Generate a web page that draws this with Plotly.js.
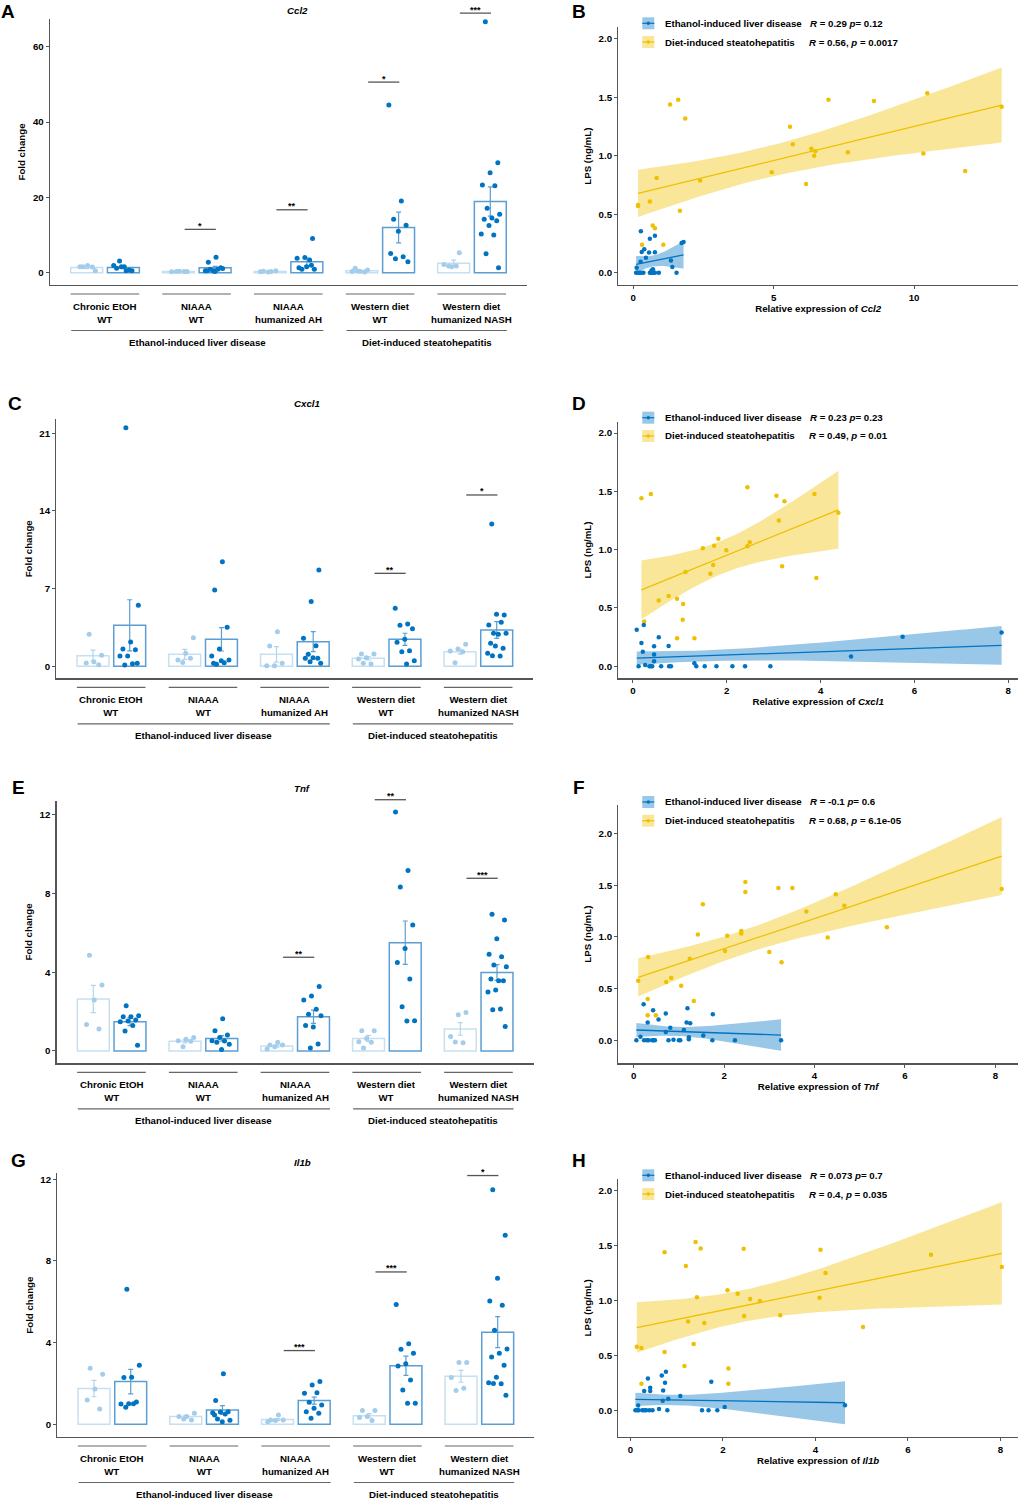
<!DOCTYPE html>
<html><head><meta charset="utf-8">
<script src="https://cdn.plot.ly/plotly-3.0.1.min.js"></script>
<style>html,body{margin:0;padding:0;background:#fff}#chart{width:1020px;height:1500px}</style>
</head><body><div id="chart"></div>
<script>
// ---------------- DATA ----------------
const groupLabels = ["Chronic EtOH<br>WT", "NIAAA<br>WT", "NIAAA<br>humanized AH", "Western diet<br>WT", "Western diet<br>humanized NASH"];
const diseaseLabels = ["Ethanol-induced liver disease", "Diet-induced steatohepatitis"];
const geneNames = ["Ccl2", "Cxcl1", "Tnf", "Il1b"];

// Ccl2 fold change
const ccl2CtrlMean = [1.4, 0.3, 0.3, 0.5, 2.5];
const ccl2CtrlSem = [0.3, 0.05, 0.05, 0.15, 0.85];
const ccl2CtrlPts = [[1.6,0.5,1.9,1.6,1.5],[0.3,0.35,0.25,0.3,0.3],[0.3,0.4,0.5,0.2,0.25],[1.15,0.7,0.4,0.3,0.2,0.5],[5.3,1.6,2.2,1.8,1.8]];
const ccl2TrtMean = [1.4, 1.3, 2.9, 12.0, 18.9];
const ccl2TrtSem = [0.3, 0.4, 1.0, 4.1, 3.9];
const ccl2TrtPts = [[3.1,0.5,1.6,1.2,0.7,1.6,1.9,0.5],[4.1,2.8,1.3,0.5,0.5,0.9,0.9,1.1,0.3,0.5],[9.1,4.0,3.8,3.4,0.9,0.9,1.6,1.3,2.0],[44.5,19.0,14.2,12.6,11.0,5.1,4.2,3.7,2.9],[66.6,29.2,26.5,23.3,23.1,17.1,15.5,14.5,14.2,13.8,12.5,10.3,10.0,5.0,1.3]];
const ccl2SigY = [null, 11.5, 16.7, 50.6, 68.9];
const ccl2SigLabel = ["", "*", "**", "*", "***"];
const ccl2Ticks = [0, 20, 40, 60];

// Cxcl1 fold change
const cxcl1CtrlMean = [0.96, 1.08, 1.08, 0.72, 1.32];
const cxcl1CtrlSem = [0.5, 0.45, 0.7, 0.15, 0.22];
const cxcl1CtrlPts = [[2.9,1.0,0.42,0.3,0.15],[2.58,1.17,0.57,0.72,0.35],[3.12,1.83,0.27,0.06,0.06],[1.11,1.11,0.78,0.66,0.21,0.27],[1.98,1.56,1.38,1.32,0.33]];
const cxcl1TrtMean = [3.7, 2.43, 2.22, 2.43, 3.27];
const cxcl1TrtSem = [2.3, 1.05, 0.9, 0.55, 0.75];
const cxcl1TrtPts = [[21.5,5.5,2.2,1.55,1.5,0.93,0.93,0.24,0.12,0.27],[9.43,6.88,3.51,1.56,0.93,0.33,0.18,0.57,0.51,0.27],[8.68,5.83,2.52,1.86,1.08,0.27,0.78,0.72,0.72,0.42],[5.23,3.81,3.69,3.39,2.43,2.16,1.41,1.32,0.51,0.21],[12.83,4.63,4.69,3.72,3.97,2.97,2.97,2.88,2.07,1.62,1.83,1.17,0.93,0.96]];
const cxcl1SigY = [null, null, null, 8.38, 15.44];
const cxcl1SigLabel = ["", "", "", "**", "*"];
const cxcl1Ticks = [0, 7, 14, 21];

// Tnf fold change
const tnfCtrlMean = [2.64, 0.49, 0.25, 0.64, 1.12];
const tnfCtrlSem = [0.69, 0.08, 0.06, 0.15, 0.32];
const tnfCtrlPts = [[4.86,3.35,2.59,1.35,1.12],[0.68,0.59,0.52,0.5,0.22],[0.44,0.3,0.3,0.22,0.1],[1.03,1.03,0.64,0.47,0.44,0.15],[1.96,1.84,0.73,0.42,0.46]];
const tnfTrtMean = [1.49, 0.64, 1.74, 5.50, 3.99];
const tnfTrtSem = [0.2, 0.14, 0.34, 1.1, 0.4];
const tnfTrtPts = [[2.30,1.79,1.74,1.74,1.57,1.52,1.49,1.29,1.02,0.29],[1.64,1.03,0.81,0.68,0.52,0.51,0.44,0.34,0.08],[3.27,2.79,2.59,2.12,1.86,1.79,1.22,1.30,0.36,0.15],[12.14,9.17,8.33,6.40,5.21,4.49,3.66,2.25,1.54,1.52],[6.94,6.65,5.70,4.91,4.79,4.37,4.28,3.57,3.66,3.57,3.10,3.0,2.13,2.10,1.24]];
const tnfSigY = [null, null, 4.76, 12.76, 8.77];
const tnfSigLabel = ["", "", "**", "**", "***"];
const tnfTicks = [0, 4, 8, 12];

// Il1b fold change
const il1bCtrlMean = [1.75, 0.38, 0.23, 0.42, 2.35];
const il1bCtrlSem = [0.4, 0.06, 0.05, 0.1, 0.29];
const il1bCtrlPts = [[2.74,2.45,1.73,1.19,0.75],[0.54,0.38,0.38,0.21,0.26],[0.46,0.21,0.21,0.18,0.13],[0.67,0.67,0.38,0.33,0.18],[3.02,3.02,2.29,1.76,1.65]];
const il1bTrtMean = [2.09, 0.70, 1.16, 2.87, 4.51];
const il1bTrtSem = [0.6, 0.21, 0.17, 0.47, 0.76];
const il1bTrtPts = [[6.61,2.89,2.30,2.29,1.09,1.0,0.99,1.0,0.83],[2.48,1.16,0.62,0.6,0.57,0.51,0.26,0.2,0.13,0.46],[2.09,1.93,1.52,1.55,1.08,0.95,0.78,0.62,0.54,0.29],[5.86,3.95,3.67,3.48,2.96,2.86,2.17,1.68,1.03,1.03],[11.48,9.26,7.15,6.04,5.83,4.60,3.69,3.48,3.30,2.89,2.30,2.04,1.99,2.0,1.42]];
const il1bSigY = [null, null, 3.61, 7.46, 12.18];
const il1bSigLabel = ["", "", "***", "***", "*"];
const il1bTicks = [0, 4, 8, 12];

// LPS vs relative expression
const ccl2EthX = [0.27,0.77,0.59,1.72,1.79,0.30,0.39,0.56,0.77,0.45,0.26,1.34,1.39,0.12,0.65,0.70,0.10,0.16,0.22,0.28,0.36,0.59,0.65,0.71,0.77,0.91,1.54];
const ccl2EthY = [0.355,0.317,0.29,0.255,0.263,0.178,0.2,0.174,0.176,0.128,0.094,0.105,0.048,0.043,0.018,0.03,0,0,0,0,0,0,0,0,0,0,0];
const ccl2DietX = [1.31,1.60,1.85,0.83,2.38,0.17,0.17,0.59,1.66,0.69,0.77,0.31,1.07,5.58,5.68,6.34,6.48,6.44,4.93,6.15,6.95,7.64,8.57,10.47,10.33,11.82,13.12];
const ccl2DietY = [1.44,1.48,1.32,0.81,0.79,0.58,0.57,0.61,0.53,0.405,0.38,0.24,0.24,1.25,1.10,1.06,1.04,1.00,0.86,0.76,1.48,1.03,1.47,1.535,1.02,0.87,1.42];
const ccl2EthStat = "<i>R</i> = 0.29 <i>p</i>= 0.12";
const ccl2DietStat = "<i>R</i> = 0.56, <i>p</i> = 0.0017";

const cxcl1EthX = [0.08,0.23,0.55,0.18,0.45,0.76,0.21,0.45,0.45,0.26,1.31,0.12,0.35,0.38,0.41,0.60,0.77,0.81,1.35,1.53,1.78,2.12,2.39,2.93,4.65,5.75,7.86];
const cxcl1EthY = [0.314,0.354,0.248,0.2,0.171,0.174,0.125,0.1,0.043,0.011,0.025,0,0,0,0,0,0,0,0,0,0,0,0,0,0.083,0.254,0.289];
const cxcl1DietX = [0.18,0.38,2.44,3.06,3.23,3.87,4.38,3.11,1.82,1.49,1.73,1.99,2.44,2.49,1.71,3.18,1.12,1.65,3.91,0.55,0.76,0.94,1.07,1.06,0.24,0.94,1.31];
const cxcl1DietY = [1.44,1.477,1.534,1.463,1.414,1.477,1.317,1.25,1.094,1.011,1.034,0.994,1.029,1.063,0.869,0.857,0.809,0.794,0.757,0.563,0.603,0.58,0.534,0.40,0.383,0.24,0.24];
const cxcl1EthStat = "<i>R</i> = 0.23 <i>p</i>= 0.23";
const cxcl1DietStat = "<i>R</i> = 0.49, <i>p</i> = 0.01";

const tnfEthX = [0.22,0.43,0.71,1.19,1.75,0.31,0.55,1.17,1.25,0.81,0.71,1.11,0.15,1.54,1.22,1.22,0.88,0.06,0.23,0.29,0.33,0.41,0.44,0.47,0.77,1.0,1.03,1.74,2.24,3.26];
const tnfEthY = [0.348,0.29,0.258,0.31,0.252,0.171,0.2,0.171,0.165,0.122,0.08,0.1,0.035,0.045,0.03,0.01,0.006,0,0,0,0,0,0,0,0,0,0,0,0,0];
const tnfDietX = [2.47,2.47,3.20,3.51,8.14,1.53,4.47,4.66,3.82,5.60,1.42,2.07,2.38,2.38,4.29,2.02,3.00,3.27,0.32,1.24,0.10,0.72,0.83,1.05,0.31,1.33,0.31,0.49];
const tnfDietY = [1.532,1.435,1.474,1.474,1.465,1.316,1.413,1.303,1.248,1.094,1.023,1.013,1.058,1.035,0.994,0.865,0.855,0.755,0.806,0.79,0.577,0.565,0.603,0.529,0.40,0.381,0.242,0.242];
const tnfEthStat = "<i>R</i> = -0.1 <i>p</i>= 0.6";
const tnfDietStat = "<i>R</i> = 0.68, <i>p</i> = 6.1e-05";

const il1bEthX = [0.77,0.68,0.38,0.75,1.75,0.43,0.30,0.43,0.71,1.08,0.82,0.70,0.17,2.04,0.62,0.11,0.15,0.18,0.26,0.30,0.34,0.41,0.48,0.80,1.55,1.69,1.88,4.64];
const il1bEthY = [0.352,0.318,0.291,0.252,0.261,0.206,0.176,0.176,0.18,0.13,0.106,0.088,0.045,0.03,0.012,0,0,0,0,0,0,0,0,0,0,0,0,0.046];
const il1bDietX = [1.41,1.52,0.74,2.45,4.11,6.50,8.03,1.20,4.22,2.10,2.32,1.44,4.09,2.59,2.80,1.25,1.60,2.46,3.24,5.03,0.14,0.24,1.37,0.74,1.17,2.12,0.24,2.12];
const il1bDietY = [1.533,1.475,1.439,1.472,1.463,1.417,1.305,1.314,1.25,1.093,1.062,1.029,1.026,1.014,0.995,0.81,0.795,0.859,0.865,0.759,0.58,0.568,0.604,0.531,0.404,0.382,0.243,0.243];
const il1bEthStat = "<i>R</i> = 0.073 <i>p</i>= 0.7";
const il1bDietStat = "<i>R</i> = 0.4, <i>p</i> = 0.035";

const lpsTicks = [0, 0.5, 1, 1.5, 2];

// ---------------- STYLE / LAYOUT ----------------
const W = 1020, H = 1500;
const FONT = "Liberation Sans, Arial, sans-serif";
const AXIS = "#555555";
const BLUE = "#0073C2", YELLOW = "#EFC000";
const BLUE_FILL = "rgba(0,115,194,0.4)", YELLOW_FILL = "rgba(239,192,0,0.4)";
const LIGHT_PT = "#A3CDEA", LIGHT_LINE = "#C6E0F1", DARK_LINE = "#5C9ED4";
const LIGHT_X = [0, 2.5, 5, 7.5, 10];
const DARK_X = LIGHT_X.map(v => v + 1);
const BAR_XR = [-1, 12];
const FS = 9.7;

const barPanels = [
  {letter:"A", gene:geneNames[0], cm:ccl2CtrlMean, cs:ccl2CtrlSem, cp:ccl2CtrlPts, tm:ccl2TrtMean, ts:ccl2TrtSem, tp:ccl2TrtPts, sy:ccl2SigY, sl:ccl2SigLabel, ticks:ccl2Ticks,
   box:{l:50, r:527, t:19, b:285}, yr:[-3.27, 67.35], letterPos:[7.5, 0], titlePos:[297.7, 10]},
  {letter:"C", gene:geneNames[1], cm:cxcl1CtrlMean, cs:cxcl1CtrlSem, cp:cxcl1CtrlPts, tm:cxcl1TrtMean, ts:cxcl1TrtSem, tp:cxcl1TrtPts, sy:cxcl1SigY, sl:cxcl1SigLabel, ticks:cxcl1Ticks,
   box:{l:56.3, r:533.4, t:419.3, b:678.3}, yr:[-1.08, 22.26], letterPos:[15, 391.5], titlePos:[306.7, 404]},
  {letter:"E", gene:geneNames[2], cm:tnfCtrlMean, cs:tnfCtrlSem, cp:tnfCtrlPts, tm:tnfTrtMean, ts:tnfTrtSem, tp:tnfTrtPts, sy:tnfSigY, sl:tnfSigLabel, ticks:tnfTicks,
   box:{l:56.6, r:533.7, t:800.7, b:1063.3}, yr:[-0.625, 12.71], letterPos:[18, 775.5], titlePos:[302, 788.3]},
  {letter:"G", gene:geneNames[3], cm:il1bCtrlMean, cs:il1bCtrlSem, cp:il1bCtrlPts, tm:il1bTrtMean, ts:il1bTrtSem, tp:il1bTrtPts, sy:il1bSigY, sl:il1bSigLabel, ticks:il1bTicks,
   box:{l:57.3, r:534.4, t:1173.3, b:1437}, yr:[-0.622, 12.29], letterPos:[18, 1149]}
];
barPanels[3].titlePos = [302.3, 1162.3];

const scatterPanels = [
  {letter:"B", gene:geneNames[0], ex:ccl2EthX, ey:ccl2EthY, dx:ccl2DietX, dy:ccl2DietY, es:ccl2EthStat, ds:ccl2DietStat, xticks:[0,5,10],
   box:{l:618.3, r:1018, t:27.3, b:285}, xr:[-0.534, 13.70], yr:[-0.105, 2.10], legY:[23.3, 42], letterPos:[578.7, 0]},
  {letter:"D", gene:geneNames[1], ex:cxcl1EthX, ey:cxcl1EthY, dx:cxcl1DietX, dy:cxcl1DietY, es:cxcl1EthStat, ds:cxcl1DietStat, xticks:[0,2,4,6,8],
   box:{l:618.3, r:1018, t:421.7, b:678.3}, xr:[-0.313, 8.21], yr:[-0.103, 2.097], legY:[417.7, 436], letterPos:[578.7, 391.5]},
  {letter:"F", gene:geneNames[2], ex:tnfEthX, ey:tnfEthY, dx:tnfDietX, dy:tnfDietY, es:tnfEthStat, ds:tnfDietStat, xticks:[0,2,4,6,8],
   box:{l:618.3, r:1018, t:805, b:1063.3}, xr:[-0.34, 8.50], yr:[-0.223, 2.278], legY:[802, 820.7], letterPos:[578.7, 775.5]},
  {letter:"H", gene:geneNames[3], ex:il1bEthX, ey:il1bEthY, dx:il1bDietX, dy:il1bDietY, es:il1bEthStat, ds:il1bDietStat, xticks:[0,2,4,6,8],
   box:{l:618.3, r:1018, t:1179, b:1436.7}, xr:[-0.26, 8.38], yr:[-0.24, 2.107], legY:[1175.3, 1194], letterPos:[578.7, 1148.5]}
];

// ---------------- HELPERS ----------------
const fx = p => p / W;
const fy = p => 1 - p / H;
const mapX = (box, xr, v) => box.l + (v - xr[0]) / (xr[1] - xr[0]) * (box.r - box.l);
const mapY = (box, yr, v) => box.b - (v - yr[0]) / (yr[1] - yr[0]) * (box.b - box.t);
const boldFont = (size, color) => ({family: FONT, size: size || FS, color: color || "#000", weight: "bold"});

function tq975(df) {
  const z = 1.959964, z3 = z*z*z, z5 = z3*z*z, z7 = z5*z*z;
  return z + (z3 + z)/(4*df) + (5*z5 + 16*z3 + 3*z)/(96*df*df) + (3*z7 + 19*z5 + 17*z3 - 15*z)/(384*df*df*df);
}
function lmFit(xs, ys) {
  const n = xs.length;
  const mx = xs.reduce((a,b)=>a+b,0)/n, my = ys.reduce((a,b)=>a+b,0)/n;
  let sxx = 0, sxy = 0;
  for (let i=0;i<n;i++){ sxx += (xs[i]-mx)**2; sxy += (xs[i]-mx)*(ys[i]-my); }
  const b = sxy/sxx, a = my - b*mx;
  let sse = 0;
  for (let i=0;i<n;i++){ sse += (ys[i]-a-b*xs[i])**2; }
  const s = Math.sqrt(sse/(n-2)), t = tq975(n-2);
  const lo = Math.min(...xs), hi = Math.max(...xs);
  const gx = [], gy = [], up = [], dn = [];
  for (let k=0;k<=80;k++){
    const x = lo + (hi-lo)*k/80;
    const yh = a + b*x;
    const se = s*Math.sqrt(1/n + (x-mx)**2/sxx);
    gx.push(x); gy.push(yh); up.push(yh + t*se); dn.push(yh - t*se);
  }
  return {gx, gy, up, dn};
}
function jitter(k) { return (((k * 0.618034 + 0.31) % 1) - 0.5) * 0.55; }

const traces = [], shapes = [], annotations = [];
const layout = {
  width: W, height: H, margin: {l:0, r:0, t:0, b:0},
  paper_bgcolor: "#fff", plot_bgcolor: "rgba(0,0,0,0)",
  showlegend: false, hovermode: false, barmode: "overlay",
  font: {family: FONT, size: FS, color: "#000"}
};

function hline(x0, x1, y, color, width) {
  shapes.push({type:"line", xref:"paper", yref:"paper", x0:fx(x0), x1:fx(x1), y0:fy(y), y1:fy(y), line:{color, width}});
}
function label(text, x, y, opts) {
  annotations.push(Object.assign({text, xref:"paper", yref:"paper", x:fx(x), y:fy(y), showarrow:false,
    xanchor:"center", yanchor:"middle", font:boldFont()}, opts || {}));
}
function letter(text, pos) {
  label(text, pos[0], pos[1], {yanchor:"top", borderpad:0, font:boldFont(19)});
}

// ---------------- BAR PANELS ----------------
barPanels.forEach((p, i) => {
  const n = 2*i + 1;
  const xa = n === 1 ? "xaxis" : "xaxis" + n, ya = n === 1 ? "yaxis" : "yaxis" + n;
  const xr = "x" + (n === 1 ? "" : n), yr = "y" + (n === 1 ? "" : n);
  layout[xa] = {domain:[fx(p.box.l), fx(p.box.r)], range:BAR_XR, anchor:yr, showline:true, linecolor:AXIS, linewidth:1.3,
    ticks:"", showticklabels:false, showgrid:false, zeroline:false, fixedrange:true};
  layout[ya] = {domain:[fy(p.box.b), fy(p.box.t)], range:p.yr, anchor:xr, showline:true, linecolor:AXIS, linewidth:1.3,
    ticks:"outside", ticklen:3, tickwidth:1, tickcolor:AXIS, tickvals:p.ticks, tickfont:boldFont(FS),
    showgrid:false, zeroline:false, fixedrange:true,
    title:{text:"Fold change", font:boldFont(FS), standoff:5}};

  traces.push({type:"bar", x:LIGHT_X, y:p.cm, width:0.87, xaxis:xr, yaxis:yr,
    marker:{color:"#FFFFFF", line:{color:LIGHT_LINE, width:1.5}},
    error_y:{type:"data", array:p.cs, visible:true, color:"#B3D5EC", thickness:1.2, width:2.5}});
  traces.push({type:"bar", x:DARK_X, y:p.tm, width:0.87, xaxis:xr, yaxis:yr,
    marker:{color:"#FFFFFF", line:{color:DARK_LINE, width:1.5}},
    error_y:{type:"data", array:p.ts, visible:true, color:DARK_LINE, thickness:1.2, width:2.5}});

  const lx = [], ly = [], dx = [], dy = [];
  p.cp.forEach((pts, g) => pts.forEach((v, k) => { lx.push(LIGHT_X[g] + jitter(k + g)); ly.push(v); }));
  p.tp.forEach((pts, g) => pts.forEach((v, k) => { dx.push(DARK_X[g] + jitter(k + 2*g)); dy.push(v); }));
  traces.push({type:"scatter", mode:"markers", x:lx, y:ly, xaxis:xr, yaxis:yr, marker:{color:LIGHT_PT, size:5}});
  traces.push({type:"scatter", mode:"markers", x:dx, y:dy, xaxis:xr, yaxis:yr, marker:{color:BLUE, size:5}});

  // significance brackets
  p.sy.forEach((v, g) => {
    if (v === null) return;
    const y = mapY(p.box, p.yr, v);
    hline(mapX(p.box, BAR_XR, LIGHT_X[g] + 0.17), mapX(p.box, BAR_XR, DARK_X[g] + 0.02), y, AXIS, 1.3);
    label(p.sl[g], mapX(p.box, BAR_XR, (LIGHT_X[g] + DARK_X[g]) / 2 + 0.1), y + 3.5, {yanchor:"bottom", font:boldFont(9)});
  });

  // group labels below axis
  const base = p.box.b;
  groupLabels.forEach((g, k) => {
    hline(mapX(p.box, BAR_XR, LIGHT_X[k] - 0.44), mapX(p.box, BAR_XR, DARK_X[k] + 0.43), base + 9, "#666", 1.2);
    label(g, mapX(p.box, BAR_XR, LIGHT_X[k] + 0.5), base + 27.8);
  });
  const ethL = mapX(p.box, BAR_XR, LIGHT_X[0] - 0.42), ethR = mapX(p.box, BAR_XR, DARK_X[2] + 0.45);
  const dietL = mapX(p.box, BAR_XR, LIGHT_X[3] - 0.42), dietR = mapX(p.box, BAR_XR, DARK_X[4] + 0.45);
  hline(ethL, ethR, base + 45.5, "#666", 1.2);
  hline(dietL, dietR, base + 45.5, "#666", 1.2);
  label(diseaseLabels[0], (ethL + ethR) / 2, base + 57.5);
  label(diseaseLabels[1], (dietL + dietR) / 2, base + 57.5);

  label("<i>" + p.gene + "</i>", p.titlePos[0], p.titlePos[1]);
  letter(p.letter, p.letterPos);
});

// ---------------- SCATTER PANELS ----------------
scatterPanels.forEach((p, i) => {
  const n = 2*i + 2;
  const xa = "xaxis" + n, ya = "yaxis" + n, xr = "x" + n, yr = "y" + n;
  layout[xa] = {domain:[fx(p.box.l), fx(p.box.r)], range:p.xr, anchor:yr, showline:true, linecolor:AXIS, linewidth:1.3,
    ticks:"outside", ticklen:3, tickwidth:1, tickcolor:AXIS, tickvals:p.xticks, tickfont:boldFont(FS),
    showgrid:false, zeroline:false, fixedrange:true,
    title:{text:"Relative expression of <i>" + p.gene + "</i>", font:boldFont(FS), standoff:2}};
  layout[ya] = {domain:[fy(p.box.b), fy(p.box.t)], range:p.yr, anchor:xr, showline:true, linecolor:AXIS, linewidth:1.3,
    ticks:"outside", ticklen:3, tickwidth:1, tickcolor:AXIS, tickvals:lpsTicks, tickformat:".1f", tickfont:boldFont(FS),
    showgrid:false, zeroline:false, fixedrange:true,
    title:{text:"LPS (ng/mL)", font:boldFont(FS), standoff:5}};

  [[p.dx, p.dy, YELLOW, YELLOW_FILL], [p.ex, p.ey, BLUE, BLUE_FILL]].forEach(([xs, ys, col, fill]) => {
    const f = lmFit(xs, ys);
    traces.push({type:"scatter", mode:"lines", x:f.gx.concat(f.gx.slice().reverse()), y:f.up.concat(f.dn.slice().reverse()),
      fill:"toself", fillcolor:fill, line:{width:0}, xaxis:xr, yaxis:yr});
    traces.push({type:"scatter", mode:"lines", x:f.gx, y:f.gy, line:{color:col, width:1.3}, xaxis:xr, yaxis:yr});
  });
  traces.push({type:"scatter", mode:"markers", x:p.dx, y:p.dy, marker:{color:YELLOW, size:4.5}, xaxis:xr, yaxis:yr});
  traces.push({type:"scatter", mode:"markers", x:p.ex, y:p.ey, marker:{color:BLUE, size:4.5}, xaxis:xr, yaxis:yr});

  // legend
  [[diseaseLabels[0], p.es, BLUE, BLUE_FILL, 808.3], [diseaseLabels[1], p.ds, YELLOW, YELLOW_FILL, 806.7]].forEach(([name, stat, col, fill, sx], r) => {
    const cy = p.legY[r];
    shapes.push({type:"rect", xref:"paper", yref:"paper", x0:fx(642.3), x1:fx(654.3), y0:fy(cy + 6), y1:fy(cy - 6), fillcolor:fill, line:{width:0}});
    hline(642.3, 654.3, cy, col, 1.2);
    shapes.push({type:"circle", xref:"paper", yref:"paper", x0:fx(646.6), x1:fx(650), y0:fy(cy + 1.7), y1:fy(cy - 1.7), fillcolor:col, line:{width:0}});
    label(name, 662.7, cy, {xanchor:"left"});
    label(stat, sx, cy, {xanchor:"left"});
  });
  letter(p.letter, p.letterPos);
});

layout.shapes = shapes;
layout.annotations = annotations;
Plotly.newPlot("chart", traces, layout, {displayModeBar:false, staticPlot:true});
</script></body></html>
